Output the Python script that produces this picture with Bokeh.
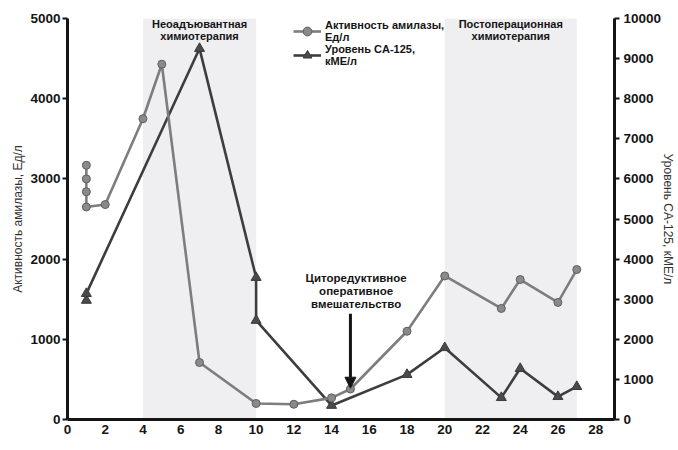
import math
from bokeh.plotting import figure
from bokeh.models import (Range1d, LinearAxis, FixedTicker, BoxAnnotation, Label,
                          Arrow, NormalHead, Legend, LegendItem)
from bokeh.embed import file_html
from bokeh.resources import INLINE

# ---- data ----
weeks_amylase = [1, 1, 1, 1, 2, 4, 5, 7, 10, 12, 14, 15, 18, 20, 23, 24, 26, 27]
amylase = [3170, 3000, 2840, 2650, 2680, 3750, 4430, 710, 200, 190, 270, 380, 1100,
           1790, 1385, 1745, 1460, 1870]
weeks_ca125 = [1, 1, 7, 10, 10, 14, 18, 20, 23, 24, 26, 27]
ca125 = [2970, 3140, 9250, 3540, 2470, 350, 1120, 1790, 545, 1270, 570, 820]
x_ticks = list(range(0, 30, 2))
left_ticks = [0, 1000, 2000, 3000, 4000, 5000]
right_ticks = list(range(0, 10001, 1000))
neo_period = (4, 10)
post_period = (20, 27)
surgery_week = 15

FONT = "Liberation Sans"
DARK = "#151515"

p = figure(width=678, height=450, x_range=Range1d(0, 29), y_range=Range1d(0, 5000),
           output_backend="svg", toolbar_location=None,
           min_border_left=67, min_border_right=61, min_border_top=18, min_border_bottom=31)
p.extra_y_ranges = {"ca": Range1d(0, 10000)}
p.outline_line_color = None
p.grid.visible = False
p.background_fill_color = "white"

# shaded periods
for a, b in (neo_period, post_period):
    p.add_layout(BoxAnnotation(left=a, right=b, fill_color="#efeff1", fill_alpha=1.0,
                               line_color=None, level="underlay"))

# series
l_ca = p.line(weeks_ca125, [v / 2 for v in ca125], line_color="#3d3d3d", line_width=2.6)
s_ca = p.scatter(weeks_ca125, [v / 2 for v in ca125], marker="triangle", size=10,
                 fill_color="#4a4a4a", line_color="#3a3a3a")
l_am = p.line(weeks_amylase, amylase, line_color="#7d7d7d", line_width=2.6)
s_am = p.scatter(weeks_amylase, amylase, marker="circle", size=8,
                 fill_color="#8a8a8a", line_color="#5e5e5e", line_width=1)

# axes
def style_axis(ax):
    ax.axis_line_width = 3
    ax.axis_line_color = DARK
    ax.major_tick_line_width = 2
    ax.major_tick_line_color = DARK
    ax.minor_tick_line_color = None
    ax.major_label_text_font = FONT
    ax.major_label_text_font_style = "bold"
    ax.major_label_text_font_size = "13.5px"
    ax.major_label_text_color = DARK

xa = p.xaxis[0]
style_axis(xa)
xa.ticker = FixedTicker(ticks=x_ticks)
xa.major_tick_out = 0
xa.major_tick_in = 0
xa.major_label_standoff = 5

ya = p.yaxis[0]
style_axis(ya)
ya.ticker = FixedTicker(ticks=left_ticks)
ya.major_tick_out = 5
ya.major_tick_in = 0
ya.major_label_standoff = 2
ya.axis_label = "Активность амилазы, Ед/л"
ya.axis_label_text_font = FONT
ya.axis_label_text_font_style = "normal"
ya.axis_label_text_font_size = "12px"
ya.axis_label_text_color = "#333333"
ya.axis_label_standoff = 2

ra = LinearAxis(y_range_name="ca", ticker=FixedTicker(ticks=right_ticks))
style_axis(ra)
ra.major_tick_out = 5
ra.major_tick_in = 0
ra.major_label_standoff = 4
ra.axis_label = "Уровень CA-125, кМЕ/л"
ra.axis_label_text_font = FONT
ra.axis_label_text_font_style = "normal"
ra.axis_label_text_font_size = "12px"
ra.axis_label_text_color = "#333333"
ra.axis_label_standoff = -3
p.add_layout(ra, "right")

# x axis title placed as a label (offset left like the reference)
p.add_layout(Label(x=13.4, y=-290, text="Время наблюдения, недели",
                   text_align="center", text_baseline="middle", text_font=FONT,
                   text_font_size="12px", text_color="#222222"))

# period labels
p.add_layout(Label(x=sum(neo_period) / 2, y=4855, text="Неоадъювантная\nхимиотерапия",
                   text_align="center", text_baseline="middle", text_font=FONT,
                   text_font_size="11px", text_font_style="bold", text_color=DARK,
                   text_line_height=1.05))
p.add_layout(Label(x=23.5, y=4855, text="Постоперационная\nхимиотерапия",
                   text_align="center", text_baseline="middle", text_font=FONT,
                   text_font_size="11px", text_font_style="bold", text_color=DARK,
                   text_line_height=1.05))

# surgery annotation
p.add_layout(Label(x=15.3, y=1600, text="Циторедуктивное\nоперативное\nвмешательство",
                   text_align="center", text_baseline="middle", text_font=FONT,
                   text_font_size="11.5px", text_font_style="bold", text_color=DARK,
                   text_line_height=1.1))
p.add_layout(Arrow(end=NormalHead(size=11, fill_color=DARK, line_color=DARK),
                   x_start=surgery_week, y_start=1320, x_end=surgery_week, y_end=390,
                   line_width=3, line_color=DARK))

# legend
legend = Legend(items=[
    LegendItem(label="Активность амилазы,\nЕд/л", renderers=[l_am, s_am]),
    LegendItem(label="Уровень CA-125,\nкМЕ/л", renderers=[l_ca, s_ca]),
], location=(226, 352), padding=0, margin=0, spacing=0, glyph_width=28, glyph_height=22,
    label_height=22, label_standoff=4,
    background_fill_alpha=0, border_line_color=None, label_text_font=FONT,
    label_text_font_size="11px", label_text_font_style="bold", label_text_color=DARK,
    label_text_line_height=1.0)
p.add_layout(legend)

open("out.html", "w").write(file_html(p, INLINE))
